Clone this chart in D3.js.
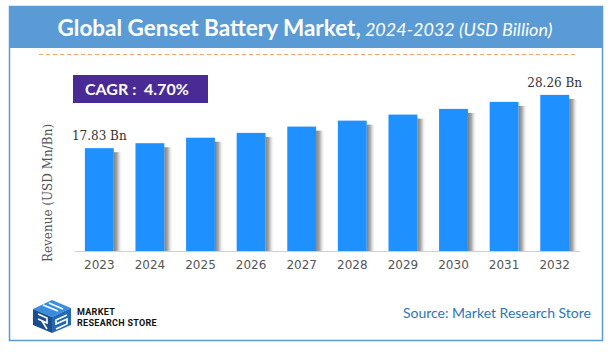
<!DOCTYPE html>
<html>
<head>
<meta charset="utf-8">
<script src="https://cdn.jsdelivr.net/npm/d3@7"></script>
<style>
  body { margin: 0; background: #fff; }
  svg { display: block; }
</style>
</head>
<body>
<script>
// chart data
var years = ["2023", "2024", "2025", "2026", "2027", "2028", "2029", "2030", "2031", "2032"];
var revenue = [17.83, 18.80, 19.88, 20.82, 22.05, 23.22, 24.40, 25.52, 26.89, 28.26];
var labelled = ["2023", "2032"];
var cagrText = "CAGR :  4.70%";

var svgWidth = 613;
var svgHeight = 352;

var svg = d3.select("body")
            .append("svg")
            .attr("width", svgWidth)
            .attr("height", svgHeight);

var defs = svg.append("defs");

// shadow on the right of each bar
var grad = defs.append("linearGradient")
               .attr("id", "shade")
               .attr("x1", "0").attr("x2", "1").attr("y1", "0").attr("y2", "0");
grad.append("stop").attr("offset", "0%").attr("stop-color", "#7d7d7d");
grad.append("stop").attr("offset", "40%").attr("stop-color", "#adadad");
grad.append("stop").attr("offset", "100%").attr("stop-color", "#ffffff").attr("stop-opacity", 0);

// frame
svg.append("rect")
   .attr("x", 9.5).attr("y", 6.5)
   .attr("width", 593).attr("height", 334)
   .attr("fill", "#fff")
   .attr("stroke", "#5b9bd5")
   .attr("stroke-width", 1.5);

// header
svg.append("rect")
   .attr("x", 9).attr("y", 6)
   .attr("width", 594).attr("height", 42)
   .attr("fill", "#5b9bd5");

var title = svg.append("text")
               .attr("x", 305).attr("y", 36)
               .attr("text-anchor", "middle")
               .attr("fill", "#fff")
               .style("font-family", "Lato, 'Open Sans', sans-serif");
title.append("tspan")
     .attr("font-weight", "bold")
     .attr("font-size", 22.5)
     .text("Global Genset Battery Market,");
title.append("tspan")
     .attr("font-style", "italic")
     .attr("font-size", 18)
     .text(" 2024-2032 (USD Billion)");

// dashed separator
svg.append("line")
   .attr("x1", 39).attr("x2", 577)
   .attr("y1", 54.5).attr("y2", 54.5)
   .attr("stroke", "#f4a46a")
   .attr("stroke-width", 1.2)
   .attr("stroke-dasharray", "4,3");

// scales
var xScale = d3.scaleBand()
               .domain(years)
               .range([74, 580])
               .paddingInner(0.43)
               .paddingOuter(0.215);

var yScale = d3.scaleLinear()
               .domain([-2.3, 30])
               .range([251, 86]);

// bar shadows
svg.selectAll(".shadow")
   .data(years)
   .enter()
   .append("rect")
   .attr("class", "shadow")
   .attr("x", function(d) { return xScale(d) + xScale.bandwidth(); })
   .attr("y", function(d, i) { return yScale(revenue[i]) + 4; })
   .attr("width", 9)
   .attr("height", function(d, i) { return 251 - yScale(revenue[i]) - 4; })
   .attr("fill", "url(#shade)");

// bars
svg.selectAll(".bar")
   .data(years)
   .enter()
   .append("rect")
   .attr("class", "bar")
   .attr("x", function(d) { return xScale(d); })
   .attr("y", function(d, i) { return yScale(revenue[i]); })
   .attr("width", xScale.bandwidth())
   .attr("height", function(d, i) { return 251 - yScale(revenue[i]); })
   .attr("fill", "#1e90ff");

// x axis
var xAxis = svg.append("g")
               .attr("transform", "translate(0,251)")
               .call(d3.axisBottom(xScale).tickSize(0).tickPadding(9));
xAxis.select(".domain").attr("stroke", "#d0d0d0").attr("stroke-width", 1.2);
xAxis.selectAll("text")
     .attr("fill", "#555")
     .style("font-family", "'DejaVu Sans', Verdana, sans-serif")
     .style("font-size", "12px");

// value labels on first and last bar
svg.selectAll(".value")
   .data(years.filter(function(d) { return labelled.indexOf(d) >= 0; }))
   .enter()
   .append("text")
   .attr("class", "value")
   .attr("x", function(d) { return xScale(d) + xScale.bandwidth() / 2; })
   .attr("y", function(d) { return yScale(revenue[years.indexOf(d)]) - 8; })
   .attr("text-anchor", "middle")
   .attr("fill", "#333")
   .style("font-family", "'DejaVu Serif', serif")
   .style("font-size", "12px")
   .text(function(d) { return revenue[years.indexOf(d)].toFixed(2) + " Bn"; });

// y axis title
svg.append("text")
   .attr("transform", "translate(52,193) rotate(-90)")
   .attr("text-anchor", "middle")
   .attr("fill", "#555")
   .style("font-family", "'DejaVu Serif', serif")
   .style("font-size", "12px")
   .text("Revenue (USD Mn/Bn)");

// CAGR box
svg.append("rect")
   .attr("x", 73).attr("y", 75)
   .attr("width", 135).attr("height", 28)
   .attr("fill", "#4a2a94");
svg.append("text")
   .attr("x", 85).attr("y", 95)
   .attr("fill", "#fff")
   .attr("font-weight", "bold")
   .style("font-family", "Lato, 'Open Sans', sans-serif")
   .style("font-size", "16px")
   .style("white-space", "pre")
   .text(cagrText);

// logo
var logo = svg.append("g").attr("transform", "translate(33,300)");
logo.append("polygon").attr("points", "0,9 19,0 38,8 19,17").attr("fill", "#3a8ee0");
logo.append("polygon").attr("points", "0,9 19,17 19,33 0,25").attr("fill", "#1c4d8c");
logo.append("polygon").attr("points", "19,17 38,8 38,25 19,33").attr("fill", "#2569b3");
logo.append("path").attr("d", "M10,5 L25,11 M16,3 L30,9")
    .attr("stroke", "#fff").attr("stroke-width", 1.6).attr("fill", "none");
logo.append("path").attr("d", "M5,14 L14,18 L14,23 L5,19 M9,21 L14,29")
    .attr("stroke", "#fff").attr("stroke-width", 1.6).attr("fill", "none");
logo.append("path").attr("d", "M34,15 L23,20 L23,24 L34,19 L34,24 L23,29")
    .attr("stroke", "#fff").attr("stroke-width", 1.6).attr("fill", "none");
logo.append("text")
    .attr("x", 44).attr("y", 15)
    .attr("fill", "#111").attr("font-weight", "bold")
    .style("font-family", "'Roboto', sans-serif")
    .style("font-size", "9px")
    .style("letter-spacing", "0.3px")
    .text("MARKET");
logo.append("text")
    .attr("x", 44).attr("y", 25.5)
    .attr("fill", "#111").attr("font-weight", "bold")
    .style("font-family", "'Roboto', sans-serif")
    .style("font-size", "9px")
    .style("letter-spacing", "0.3px")
    .text("RESEARCH STORE");

// source
svg.append("text")
   .attr("x", 591).attr("y", 318)
   .attr("text-anchor", "end")
   .attr("fill", "#2e75b6")
   .style("font-family", "Lato, 'Open Sans', sans-serif")
   .style("font-size", "14px")
   .text("Source: Market Research Store");
</script>
</body>
</html>
